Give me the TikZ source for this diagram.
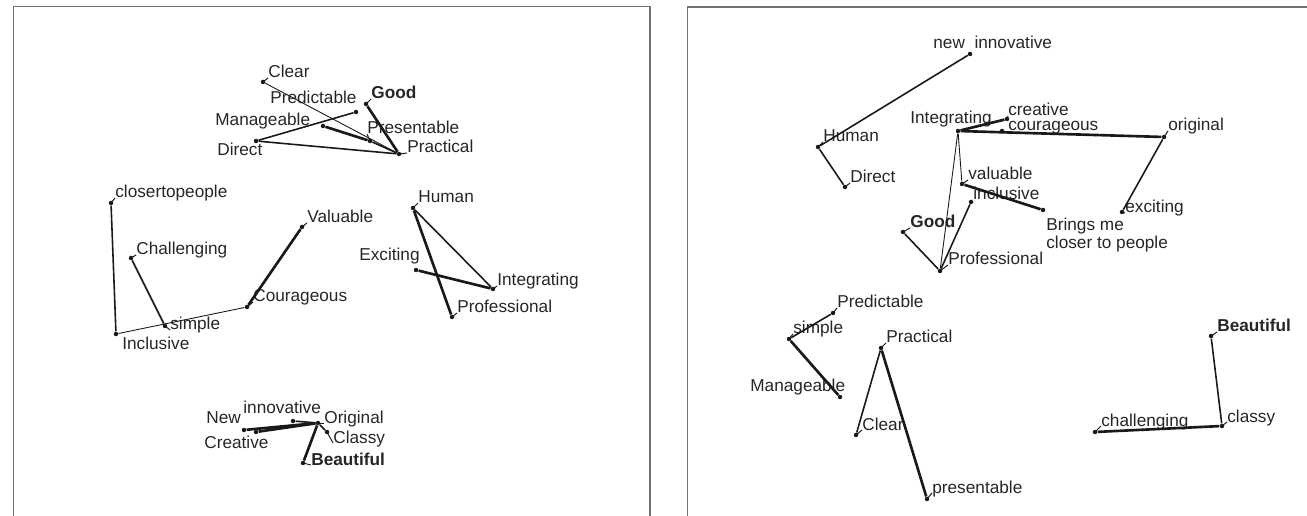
\documentclass[tikz,border=0pt]{standalone}
\usepackage{fontspec}
\setmainfont{Liberation Sans}
\begin{document}
\begin{tikzpicture}[x=0.02cm,y=-0.02cm,
  dot/.style={circle,fill=black!90,inner sep=0pt,minimum size=0.09cm},
  lbl/.style={anchor=base west,inner sep=0pt,font=\fontsize{9.8}{11.8}\selectfont,text=black!85},
  blbl/.style={lbl,font=\fontsize{9.8}{11.8}\selectfont\bfseries},
  thinedge/.style={draw=black!90,line width=0.5pt},
  midedge/.style={draw=black!90,line width=0.9pt},
  thickedge/.style={draw=black!90,line width=1.5pt},
  lead/.style={draw=black!90,line width=0.55pt},
  frame/.style={draw=black!55,line width=0.9pt}]
\useasboundingbox (0,0) rectangle (1307,516);
% panel frames
\coordinate (fa) at (13.5,516); \coordinate (fb) at (13.5,6.5);
\coordinate (fc) at (650,6.5); \coordinate (fd) at (650,516);
\draw[frame] (fa) -- (fb) -- (fc) -- (fd);
\coordinate (ga) at (687.5,516); \coordinate (gb) at (687.5,7);
\coordinate (gc) at (1307,7);
\draw[frame] (ga) -- (gb) -- (gc);

% ---------------- left panel ----------------
\node[dot] (LClear) at (263,82) {};   \node[lbl] (LClear-l) at (268,78) {Clear};
\node[dot] (LGood) at (366,104) {};   \node[blbl] (LGood-l) at (371,99) {Good};
\node[dot] (LPred) at (356,112) {};   \node[lbl] (LPred-l) at (270,104) {Predictable};
\node[dot] (LMan) at (323,126) {};    \node[lbl] (LMan-l) at (215,126) {Manageable};
\node[dot] (LPres) at (370,141) {};   \node[lbl] (LPres-l) at (367,134) {Presentable};
\node[dot] (LPrac) at (399,154) {};   \node[lbl] (LPrac-l) at (407,153) {Practical};
\node[dot] (LDir) at (256,141) {};    \node[lbl] (LDir-l) at (217,156) {Direct};
\draw[thinedge] (LClear) -- (LPrac);
\draw[thickedge] (LGood) -- (LPrac);
\draw[midedge] (LPred) -- (LDir);
\draw[midedge] (LDir) -- (LPrac);
\draw[thickedge] (LMan) -- (LPres);
\draw[midedge] (LPres) -- (LPrac);

\node[dot] (LCloser) at (111,203) {}; \node[lbl] (LCloser-l) at (115,198) {closertopeople};
\node[dot] (LChal) at (131,258) {};   \node[lbl] (LChal-l) at (136,255) {Challenging};
\node[dot] (LIncl) at (116,334) {};   \node[lbl] (LIncl-l) at (122,350) {Inclusive};
\node[dot] (LSimple) at (165,326) {}; \node[lbl] (LSimple-l) at (170,330) {simple};
\node[dot] (LCour) at (247,307) {};   \node[lbl] (LCour-l) at (253,302) {Courageous};
\node[dot] (LVal) at (302,227) {};    \node[lbl] (LVal-l) at (307,223) {Valuable};
\draw[midedge] (LCloser) -- (LIncl);
\draw[midedge] (LChal) -- (LSimple);
\draw[thinedge] (LIncl) -- (LCour);
\draw[thickedge] (LCour) -- (LVal);

\node[dot] (LHum) at (413,208) {};    \node[lbl] (LHum-l) at (418,203) {Human};
\node[dot] (LExc) at (416,270) {};    \node[lbl] (LExc-l) at (359,261) {Exciting};
\node[dot] (LInt) at (493,289) {};    \node[lbl] (LInt-l) at (497,286) {Integrating};
\node[dot] (LProf) at (452,317) {};   \node[lbl] (LProf-l) at (457,313) {Professional};
\draw[midedge] (LHum) -- (LInt);
\draw[thickedge] (LHum) -- (LProf);
\draw[thickedge] (LExc) -- (LInt);

\node[dot] (LNew) at (244,430) {};    \node[lbl] (LNew-l) at (206,423) {New};
\node[dot] (LCrea) at (256,432) {};   \node[lbl] (LCrea-l) at (204,448) {Creative};
\node[dot] (LInno) at (293,421) {};   \node[lbl] (LInno-l) at (243,414) {innovative};
\node[dot] (LOrig) at (318,423) {};   \node[lbl] (LOrig-l) at (324,423) {Original};
\node[dot] (LClassy) at (327,432) {}; \node[lbl] (LClassy-l) at (333,443) {Classy};
\node[dot] (LBeau) at (303,463) {};   \node[blbl] (LBeau-l) at (311,465) {Beautiful};
\draw[thickedge] (LNew) -- (LOrig);
\draw[thickedge] (LCrea) -- (LOrig);
\draw[midedge] (LInno) -- (LOrig);
\draw[midedge] (LOrig) -- (LClassy);
\draw[thickedge] (LOrig) -- (LBeau);

% ---------------- right panel ----------------
\node[dot] (RNewInno) at (970,54) {}; \node[lbl] (RNewInno-l) at (933,49) {new~~innovative};
\node[dot] (RHum) at (818,147) {};    \node[lbl] (RHum-l) at (823,142) {Human};
\node[dot] (RDir) at (845,187) {};    \node[lbl] (RDir-l) at (850,183) {Direct};
\node[dot] (RInt) at (958,131) {};    \node[lbl] (RInt-l) at (910,124) {Integrating};
\node[dot] (RCrea) at (1007,119) {};  \node[lbl] (RCrea-l) at (1008,116) {creative};
\node[dot] (RCour) at (1002,131) {};  \node[lbl] (RCour-l) at (1008,131) {courageous};
\node[dot] (ROrig) at (1164,137) {};  \node[lbl] (ROrig-l) at (1168,131) {original};
\node[dot] (RExc) at (1122,212) {};   \node[lbl] (RExc-l) at (1125,213) {exciting};
\node[dot] (RVal) at (962,184) {};    \node[lbl] (RVal-l) at (968,180) {valuable};
\node[dot] (RIncl) at (971,202) {};   \node[lbl] (RIncl-l) at (973,200) {inclusive};
\node[dot] (RBr) at (1043,210) {};
\node[lbl] (RBr-l) at (1046,231) {Brings me};
\node[lbl] (RBr-m) at (1046,249) {closer to people};
\node[dot] (RGood) at (903,232) {};   \node[blbl] (RGood-l) at (910,228) {Good};
\node[dot] (RProf) at (940,271) {};   \node[lbl] (RProf-l) at (948,265) {Professional};
\draw[midedge] (RHum) -- (RNewInno);
\draw[midedge] (RHum) -- (RDir);
\draw[thickedge] (RInt) -- (RCrea);
\draw[thickedge] (RInt) -- (ROrig);
\draw[thinedge] (RInt) -- (RVal);
\draw[thinedge] (RInt) -- (RProf);
\draw[thickedge] (RVal) -- (RBr);
\draw[midedge] (RProf) -- (RIncl);
\draw[midedge] (RGood) -- (RProf);
\draw[midedge] (ROrig) -- (RExc);

\node[dot] (RPred) at (833,313) {};   \node[lbl] (RPred-l) at (837,308) {Predictable};
\node[dot] (RSimple) at (789,339) {}; \node[lbl] (RSimple-l) at (793,334) {simple};
\node[dot] (RMan) at (840,397) {};    \node[lbl] (RMan-l) at (750,392) {Manageable};
\node[dot] (RPrac) at (881,348) {};   \node[lbl] (RPrac-l) at (886,343) {Practical};
\node[dot] (RClear) at (856,435) {};  \node[lbl] (RClear-l) at (862,430) {Clear};
\node[dot] (RPres) at (927,499) {};   \node[lbl] (RPres-l) at (932,493) {presentable};
\draw[midedge] (RSimple) -- (RPred);
\draw[thickedge] (RSimple) -- (RMan);
\draw[midedge] (RPrac) -- (RClear);
\draw[thickedge] (RPrac) -- (RPres);

\node[dot] (RBeau) at (1211,336) {};  \node[blbl] (RBeau-l) at (1217,332) {Beautiful};
\node[dot] (RClassy) at (1222,426) {};\node[lbl] (RClassy-l) at (1227,422) {classy};
\node[dot] (RChal) at (1095,432) {};  \node[lbl] (RChal-l) at (1101,426) {challenging};
\draw[midedge] (RBeau) -- (RClassy);
\draw[thickedge] (RChal) -- (RClassy);

% leader ticks from points to their labels
\foreach \n in {LClear,LGood,LPres,LPrac,LCloser,LChal,LSimple,LCour,LVal,LHum,LInt,LProf,LOrig,LClassy,LBeau,
                RHum,RDir,RCrea,RCour,ROrig,RExc,RVal,RGood,RProf,RPred,RSimple,RPrac,RClear,RPres,RBeau,RClassy,RChal}
  \draw[lead] (\n.center) -- (\n-l.base west);
\end{tikzpicture}
\end{document}
